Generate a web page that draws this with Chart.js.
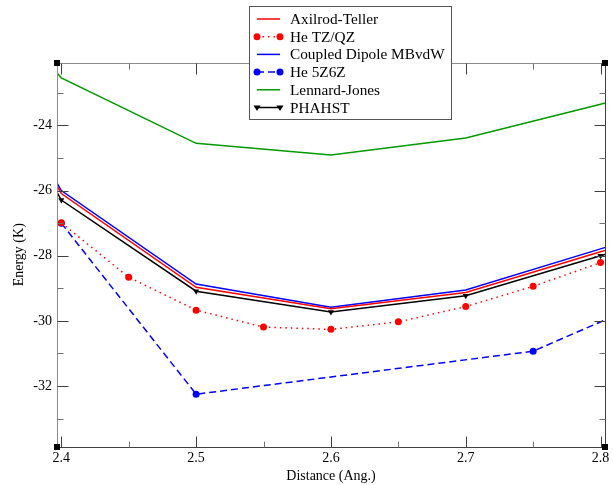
<!DOCTYPE html>
<html>
<head>
<meta charset="utf-8">
<script src="https://cdn.jsdelivr.net/npm/chart.js@4/dist/chart.umd.min.js"></script>
<style>
html, body { margin: 0; padding: 0; background: #fff; }
</style>
</head>
<body>
<canvas id="chart" width="613" height="485"></canvas>
<script>
// distances (Ang.) for the solid curves, which run just past both frame edges
var solidX = [2.39, 2.4, 2.5, 2.6, 2.7, 2.8, 2.85];
var axilrodTeller = [-25.37, -26.09, -28.97, -29.63, -29.13, -27.88, -27.25];
var coupledDipole = [-25.28, -26.00, -28.87, -29.58, -29.05, -27.79, -27.16];
var lennardJones = [-22.06, -22.54, -24.55, -24.91, -24.39, -23.35, -22.83];
var phahst = [-25.55, -26.29, -29.09, -29.73, -29.23, -28.00, -27.38];

var tzqzX = [2.4, 2.45, 2.5, 2.55, 2.6, 2.65, 2.7, 2.75, 2.8];
var heTZQZ = [-26.99, -28.66, -29.67, -30.19, -30.26, -30.03, -29.56, -28.94, -28.21];

var z56X = [2.4, 2.5, 2.75, 2.85];
var he5Z6Z = [-27.00, -32.25, -30.93, -29.13];

var xTicks = [2.4, 2.5, 2.6, 2.7, 2.8];
var xMinorTicks = [2.45, 2.55, 2.65, 2.75];
var yTicks = [-32, -30, -28, -26, -24];
var yMinorTicks = [-33, -31, -29, -27, -25, -23];

var serif = "'Liberation Serif', 'DejaVu Serif', serif";

function pairs(xs, ys) {
	return xs.map(function(x, i) { return {x: x, y: ys[i]}; });
}

// frame with inward ticks on all four sides, plus the little corner squares
const frameTicks = {
	id: 'frameTicks',
	afterDatasetsDraw(chart, args, opts) {
		const {ctx, chartArea: {left, right, top, bottom}} = chart;
		const xs = chart.scales.x, ys = chart.scales.y;
		ctx.save();
		ctx.lineWidth = 1;
		function seg(x0, y0, x1, y1, color) {
			ctx.strokeStyle = color;
			ctx.beginPath();
			ctx.moveTo(x0, y0);
			ctx.lineTo(x1, y1);
			ctx.stroke();
		}
		const L = Math.round(left) + 0.5, R = Math.round(right) + 0.5;
		const T = Math.round(top) + 0.5, B = Math.round(bottom) + 0.5;
		seg(L, T, R, T, opts.lightColor);
		seg(L, T, L, B, opts.lightColor);
		seg(R, T, R, B, opts.darkColor);
		seg(L, B, R, B, opts.darkColor);

		[[xTicks, opts.major, opts.darkColor], [xMinorTicks, opts.minor, opts.minorColor]].forEach(function(set) {
			set[0].forEach(function(v) {
				const px = Math.round(xs.getPixelForValue(v)) + 0.5;
				seg(px, B, px, B - set[1], set[2]);
				seg(px, T, px, T + set[1], set[2]);
			});
		});
		[[yTicks, opts.major, opts.darkColor], [yMinorTicks, opts.minor, opts.minorColor]].forEach(function(set) {
			set[0].forEach(function(v) {
				const py = Math.round(ys.getPixelForValue(v)) + 0.5;
				seg(L, py, L + set[1], py, set[2]);
				seg(R, py, R - set[1], py, set[2]);
			});
		});

		ctx.fillStyle = '#000';
		const s = opts.cornerSize;
		[[left, top], [right, top], [left, bottom], [right, bottom]].forEach(function(c) {
			ctx.fillRect(Math.round(c[0] - s / 2), Math.round(c[1] - s / 2), s, s);
		});
		ctx.restore();
	}
};

function drawMarker(ctx, ds, x, y) {
	const r = ds.pointRadius;
	ctx.fillStyle = ds.pointBackgroundColor;
	ctx.beginPath();
	if (ds.pointStyle === 'triangle') {
		ctx.moveTo(x - r, y - r * 0.6);
		ctx.lineTo(x + r, y - r * 0.6);
		ctx.lineTo(x, y + r);
		ctx.closePath();
	} else {
		ctx.arc(x, y, r, 0, Math.PI * 2);
	}
	ctx.fill();
}

// boxed legend sitting over the top edge of the plot
const legendBox = {
	id: 'legendBox',
	afterDraw(chart, args, opts) {
		const ctx = chart.ctx;
		ctx.save();
		ctx.fillStyle = '#fff';
		ctx.fillRect(opts.x, opts.y, opts.width, opts.height);
		ctx.strokeStyle = '#555';
		ctx.lineWidth = 1;
		ctx.strokeRect(opts.x + 0.5, opts.y + 0.5, opts.width, opts.height);
		chart.data.datasets.forEach(function(ds, i) {
			const cy = opts.y + opts.firstRow + i * opts.rowGap;
			const x0 = opts.x + opts.sampleLeft, x1 = x0 + opts.sampleLength;
			ctx.strokeStyle = ds.borderColor;
			ctx.lineWidth = ds.borderWidth;
			ctx.setLineDash(ds.borderDash || []);
			ctx.beginPath();
			ctx.moveTo(x0, cy);
			ctx.lineTo(x1, cy);
			ctx.stroke();
			ctx.setLineDash([]);
			if (ds.pointRadius > 0) {
				drawMarker(ctx, ds, x0, cy);
				drawMarker(ctx, ds, x1, cy);
			}
			ctx.fillStyle = '#000';
			ctx.font = opts.fontSize + 'px ' + serif;
			ctx.textBaseline = 'middle';
			ctx.fillText(ds.label, opts.x + opts.textLeft, cy + 1);
		});
		ctx.restore();
	}
};

var data = {
	datasets: [{
		label: 'Axilrod-Teller',
		data: pairs(solidX, axilrodTeller),
		borderColor: '#ff0000',
		borderWidth: 1.5,
		pointRadius: 0,
	}, {
		label: 'He TZ/QZ',
		data: pairs(tzqzX, heTZQZ),
		borderColor: '#ff0000',
		borderWidth: 1.5,
		borderDash: [1.5, 4],
		pointStyle: 'circle',
		pointRadius: 3.5,
		pointBackgroundColor: '#ff0000',
		pointBorderWidth: 0,
	}, {
		label: 'Coupled Dipole MBvdW',
		data: pairs(solidX, coupledDipole),
		borderColor: '#0000ff',
		borderWidth: 1.5,
		pointRadius: 0,
	}, {
		label: 'He 5Z6Z',
		data: pairs(z56X, he5Z6Z),
		borderColor: '#0000ff',
		borderWidth: 1.5,
		borderDash: [7, 4],
		pointStyle: 'circle',
		pointRadius: 3.5,
		pointBackgroundColor: '#0000ff',
		pointBorderWidth: 0,
	}, {
		label: 'Lennard-Jones',
		data: pairs(solidX, lennardJones),
		borderColor: '#009a00',
		borderWidth: 1.5,
		pointRadius: 0,
	}, {
		label: 'PHAHST',
		data: pairs(solidX, phahst),
		borderColor: '#000000',
		borderWidth: 1.5,
		pointStyle: 'triangle',
		pointRotation: 180,
		pointRadius: 3.5,
		pointBackgroundColor: '#000000',
		pointBorderWidth: 0,
	}]
};

var chart = new Chart(document.getElementById('chart'), {
	type: 'line',
	data: data,
	options: {
		responsive: false,
		animation: false,
		layout: {
			padding: {top: 62.5, right: 8, left: 0, bottom: 0},
		},
		scales: {
			x: {
				type: 'linear',
				min: 2.3968, max: 2.8033,
				afterFit: function(scale) { scale.height = 38; },
				afterBuildTicks: function(scale) {
					scale.ticks = xTicks.map(function(v) { return {value: v}; });
				},
				ticks: {
					color: '#000',
					padding: 3,
					font: {family: serif, size: 14},
					callback: function(v) { return v.toFixed(1); },
				},
				grid: {display: false, drawTicks: false},
				border: {display: false},
				title: {
					display: true,
					text: 'Distance (Ang.)',
					color: '#000',
					font: {family: serif, size: 14},
					padding: {top: 0, bottom: 0},
				},
			},
			y: {
				min: -33.87, max: -22.07,
				afterFit: function(scale) { scale.width = 57; },
				afterBuildTicks: function(scale) {
					scale.ticks = yTicks.map(function(v) { return {value: v}; });
				},
				ticks: {
					color: '#000',
					padding: 5,
					font: {family: serif, size: 14},
				},
				grid: {display: false, drawTicks: false},
				border: {display: false},
				title: {
					display: true,
					text: 'Energy (K)',
					color: '#000',
					font: {family: serif, size: 14},
					padding: {top: 11, bottom: 0},
				},
			},
		},
		plugins: {
			legend: {display: false},
			tooltip: {enabled: false},
			frameTicks: {
				lightColor: '#8c8c8c',
				darkColor: '#404040',
				minorColor: '#707070',
				major: 11,
				minor: 6,
				cornerSize: 6,
			},
			legendBox: {
				x: 249, y: 6, width: 202, height: 113,
				firstRow: 13, rowGap: 17.7,
				sampleLeft: 8, sampleLength: 23,
				textLeft: 41, fontSize: 15.3,
			},
		},
	},
	plugins: [frameTicks, legendBox],
});
</script>
</body>
</html>
